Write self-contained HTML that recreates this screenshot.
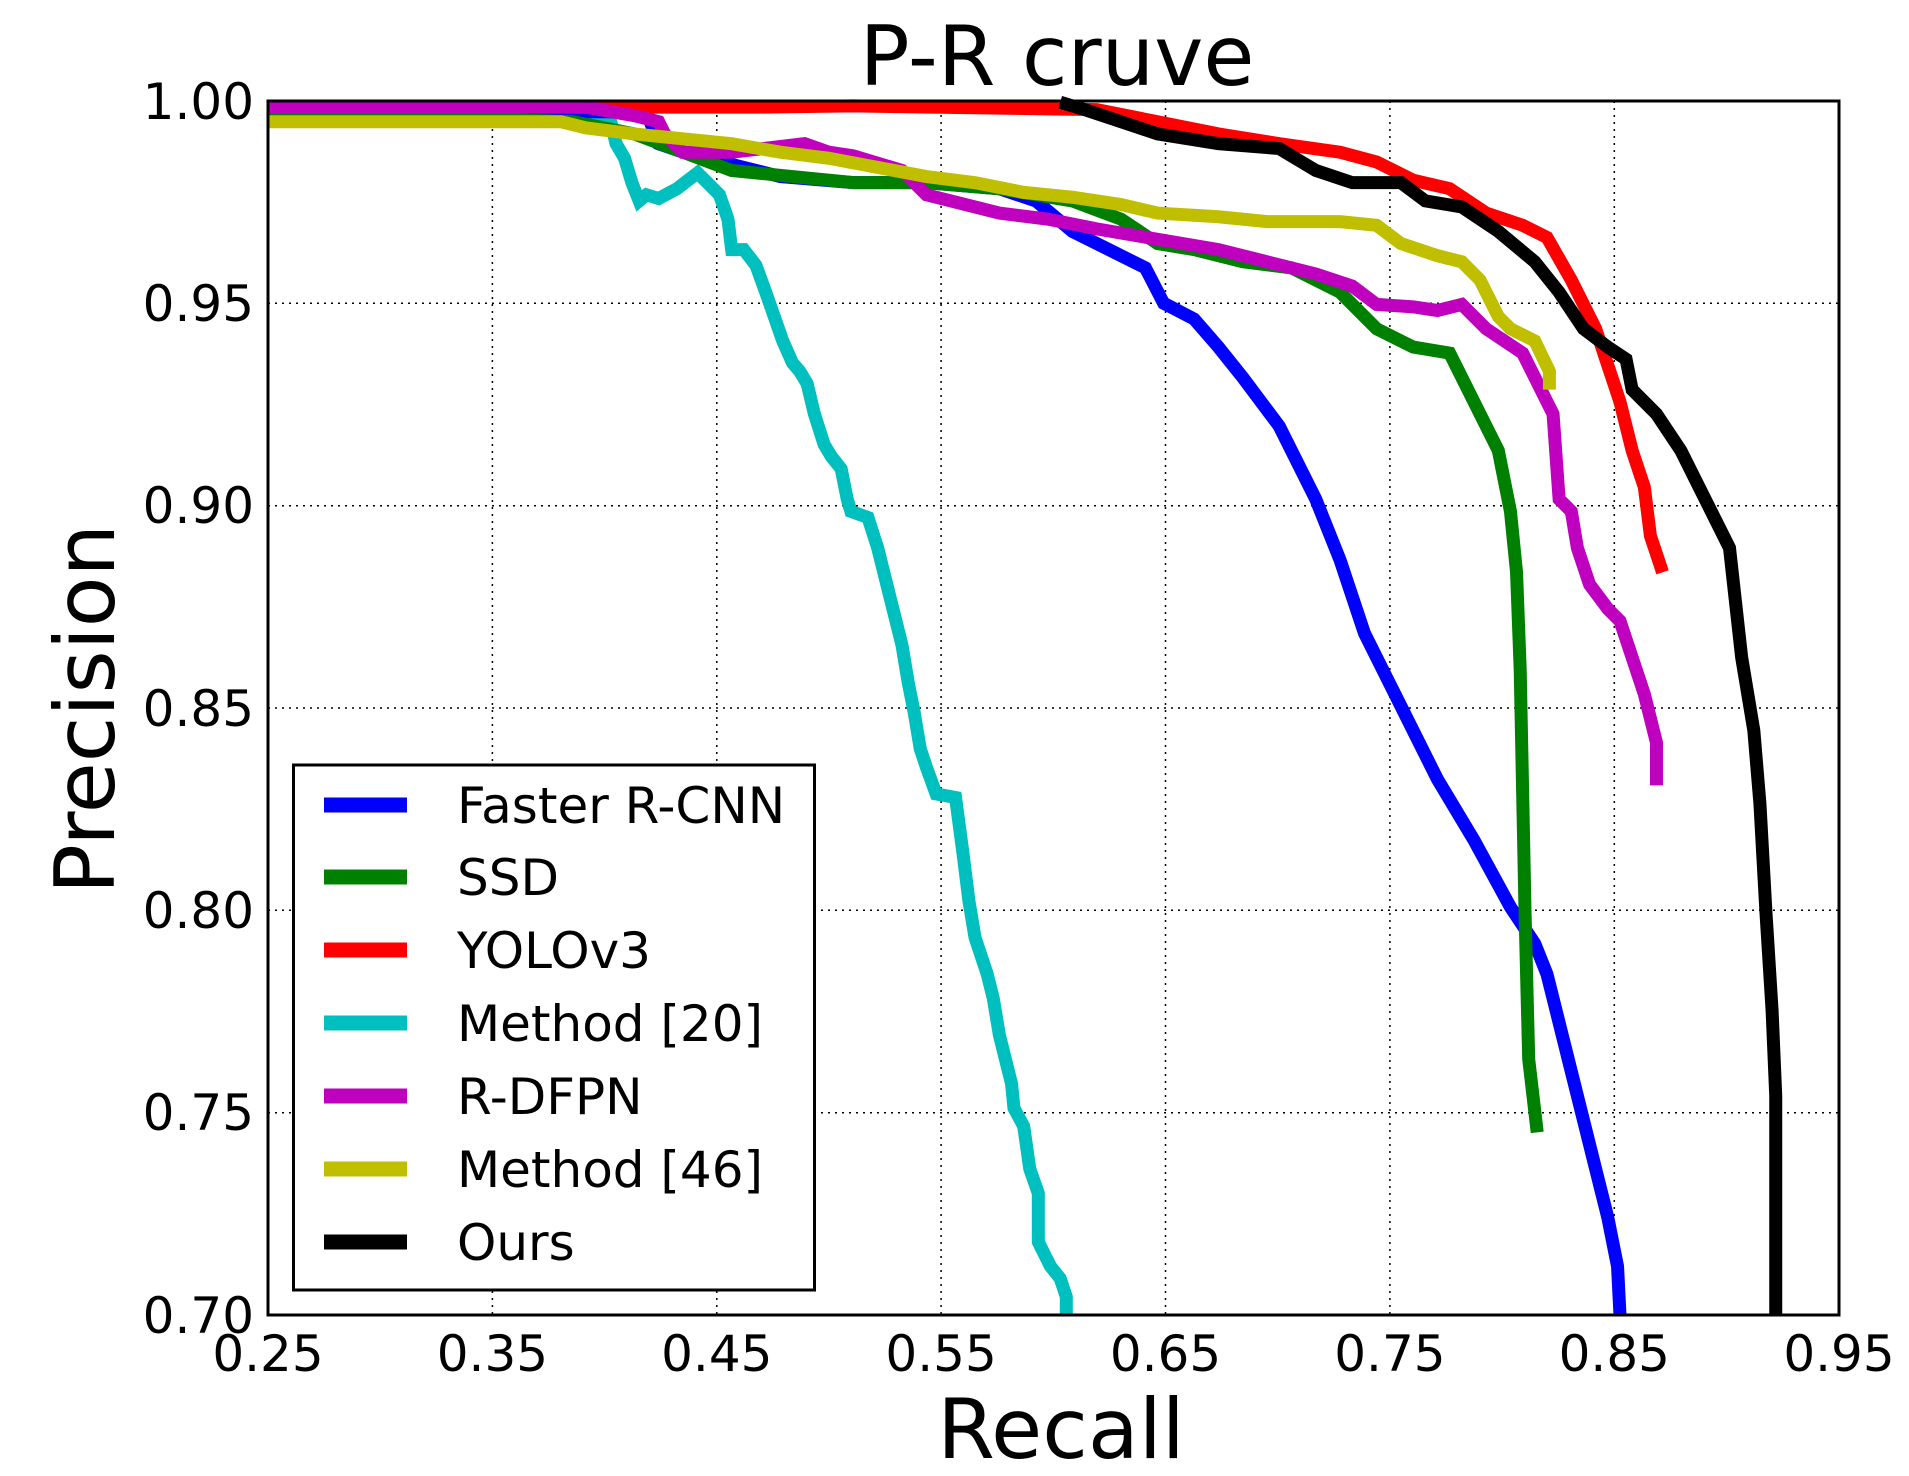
<!DOCTYPE html>
<html><head><meta charset="utf-8"><style>
html,body{margin:0;padding:0;background:#fff;}
svg{display:block;font-family:"DejaVu Sans","Liberation Sans",sans-serif;}
</style></head><body>
<svg width="1909" height="1476" viewBox="0 0 1909 1476" xmlns="http://www.w3.org/2000/svg">
<rect width="1909" height="1476" fill="#fff"/>
<g stroke="#000" stroke-width="1.5" stroke-dasharray="2,5">
<line x1="492.4" y1="101" x2="492.4" y2="1315"/>
<line x1="716.8" y1="101" x2="716.8" y2="1315"/>
<line x1="941.1" y1="101" x2="941.1" y2="1315"/>
<line x1="1165.5" y1="101" x2="1165.5" y2="1315"/>
<line x1="1389.9" y1="101" x2="1389.9" y2="1315"/>
<line x1="1614.3" y1="101" x2="1614.3" y2="1315"/>
<line x1="268" y1="303.3" x2="1839" y2="303.3"/>
<line x1="268" y1="505.7" x2="1839" y2="505.7"/>
<line x1="268" y1="708" x2="1839" y2="708"/>
<line x1="268" y1="910.3" x2="1839" y2="910.3"/>
<line x1="268" y1="1112.7" x2="1839" y2="1112.7"/>
</g>
<g fill="none" stroke-width="13" stroke-linejoin="miter" stroke-linecap="butt" transform="matrix(1.2169 0 0 1.2176 1.5 0)">
<polyline vector-effect="non-scaling-stroke" stroke="#00bfbf" points="219,97 500,97 505,118 512,130 518,150 524,165 530,160 540,163 555,155 572,142 580,150 590,160 597,180 600,205 610,205 620,218 628,240 635,260 642,280 650,298 656,305 662,315 668,340 676,365 682,375 690,385 695,410 698,420 712,425 720,450 725,470 730,490 735,510 740,530 745,560 750,585 755,615 760,630 768,652 784,655 790,700 795,740 800,770 810,800 815,820 820,850 825,870 830,890 832,910 840,925 845,960 852,980 852,1020 862,1040 870,1050 875,1065 875,1080"/>
<polyline vector-effect="non-scaling-stroke" stroke="#0000ff" points="219,90 530,92 540,118 560,125 600,135 640,145 700,150 760,150 820,155 850,165 880,190 920,210 940,220 955,249 980,262 1000,285 1020,310 1050,350 1080,410 1100,460 1120,520 1140,560 1160,600 1180,640 1210,690 1240,745 1260,775 1270,800 1280,840 1290,880 1300,920 1310,960 1320,1000 1328,1040 1330,1080"/>
<polyline vector-effect="non-scaling-stroke" stroke="#008000" points="219,92 470,100 520,110 560,125 600,140 650,145 700,150 760,150 820,155 880,165 920,180 950,200 980,205 1020,215 1060,220 1100,240 1130,270 1160,285 1190,290 1200,310 1215,340 1230,370 1240,420 1245,470 1248,550 1250,650 1252,750 1255,870 1262,930"/>
<polyline vector-effect="non-scaling-stroke" stroke="#ff0000" points="219,88 620,88 700,87 900,90 950,100 1000,110 1050,118 1100,125 1130,133 1160,148 1190,155 1220,175 1250,185 1270,195 1290,230 1300,250 1310,270 1320,300 1330,330 1340,370 1350,400 1355,440 1365,470"/>
<polyline vector-effect="non-scaling-stroke" stroke="#bf00bf" points="219,88 480,88 520,95 540,100 545,110 560,125 600,125 660,118 680,125 700,128 740,140 760,160 820,175 860,180 900,188 1000,205 1040,215 1080,225 1110,235 1130,250 1160,252 1180,255 1200,250 1220,270 1250,290 1270,330 1275,340 1280,410 1290,420 1295,450 1305,480 1320,500 1330,510 1340,540 1350,570 1360,610 1360,645"/>
<polyline vector-effect="non-scaling-stroke" stroke="#bfbf00" points="219,100 460,100 480,105 520,110 600,118 640,125 680,130 760,145 800,150 840,158 880,162 920,168 950,175 1000,178 1040,182 1100,182 1130,185 1150,200 1180,210 1200,215 1215,230 1230,260 1240,270 1260,280 1272,305 1272,320"/>
<polyline vector-effect="non-scaling-stroke" stroke="#000000" points="870,84 890,90 920,100 950,110 1000,118 1050,122 1080,140 1110,150 1150,150 1170,165 1200,170 1230,190 1260,215 1280,240 1300,270 1320,285 1335,295 1340,320 1360,340 1380,370 1395,400 1410,430 1420,450 1430,540 1440,600 1445,660 1450,750 1455,830 1458,900 1458,1080"/>
</g>
<rect x="268" y="101" width="1571" height="1214" fill="none" stroke="#000" stroke-width="3"/>
<rect x="293.5" y="765" width="521" height="525" fill="#fff" stroke="#000" stroke-width="3"/>
<g stroke-width="15">
<line x1="324" y1="805" x2="407" y2="805" stroke="#0000ff"/>
<line x1="324" y1="877" x2="407" y2="877" stroke="#008000"/>
<line x1="324" y1="950" x2="407" y2="950" stroke="#ff0000"/>
<line x1="324" y1="1023" x2="407" y2="1023" stroke="#00bfbf"/>
<line x1="324" y1="1096" x2="407" y2="1096" stroke="#bf00bf"/>
<line x1="324" y1="1169" x2="407" y2="1169" stroke="#bfbf00"/>
<line x1="324" y1="1242" x2="407" y2="1242" stroke="#000000"/>
</g>
<g font-size="50" fill="#000">
<text x="457" y="823">Faster R-CNN</text>
<text x="457" y="895">SSD</text>
<text x="457" y="968">YOLOv3</text>
<text x="457" y="1041">Method [20]</text>
<text x="457" y="1114">R-DFPN</text>
<text x="457" y="1187">Method [46]</text>
<text x="457" y="1260">Ours</text>
</g>
<g font-size="50" text-anchor="end" fill="#000">
<text x="254" y="119">1.00</text>
<text x="254" y="321">0.95</text>
<text x="254" y="523">0.90</text>
<text x="254" y="726">0.85</text>
<text x="254" y="928">0.80</text>
<text x="254" y="1130">0.75</text>
<text x="254" y="1333">0.70</text>
</g>
<g font-size="50" text-anchor="middle" fill="#000">
<text x="268" y="1371">0.25</text>
<text x="492.4" y="1371">0.35</text>
<text x="716.8" y="1371">0.45</text>
<text x="941.1" y="1371">0.55</text>
<text x="1165.5" y="1371">0.65</text>
<text x="1389.9" y="1371">0.75</text>
<text x="1614.3" y="1371">0.85</text>
<text x="1839" y="1371">0.95</text>
</g>
<text x="1057" y="85" font-size="83" text-anchor="middle">P-R cruve</text>
<text x="1061" y="1458" font-size="83" text-anchor="middle">Recall</text>
<text transform="translate(114,709) rotate(-90)" font-size="83" text-anchor="middle">Precision</text>
</svg>
</body></html>
